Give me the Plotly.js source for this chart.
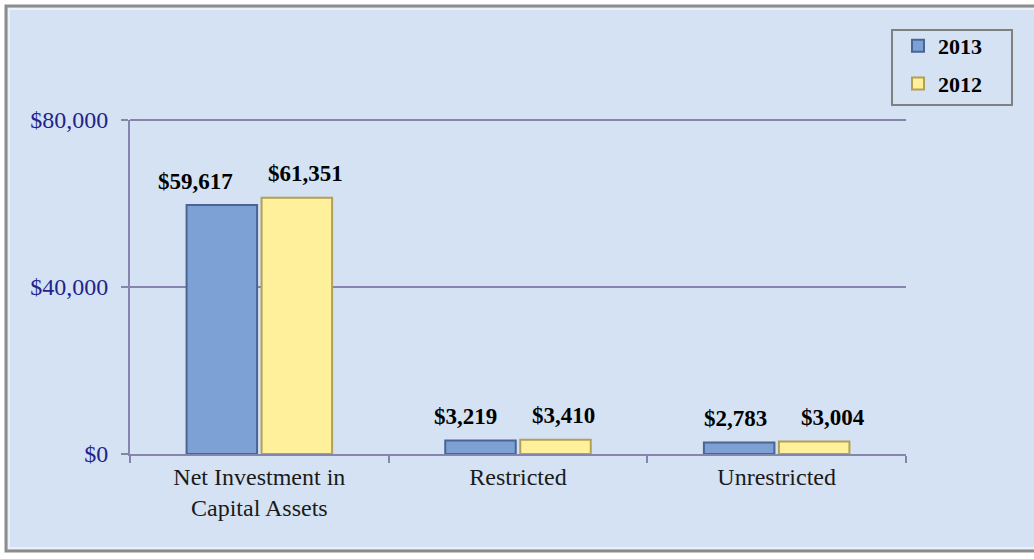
<!DOCTYPE html>
<html>
<head>
<meta charset="utf-8">
<script src="https://cdn.plot.ly/plotly-3.0.1.min.js"></script>
<style>html,body{margin:0;padding:0;background:#fff;}#chart{width:1034px;height:559px;}</style>
</head>
<body>
<div id="chart"></div>
<script>
const categories = ["Net Investment in<br>Capital Assets", "Restricted", "Unrestricted"];
const values2013 = [59617, 3219, 2783];
const values2012 = [61351, 3410, 3004];
const seriesNames = ["2013", "2012"];
const tickValues = [0, 40000, 80000];
const tickLabels = ["$0", "$40,000", "$80,000"];

const serif = "Liberation Serif, Times New Roman, serif";

const traces = [
  {
    type: 'bar', name: seriesNames[0], x: categories, y: values2013, legendgroup: 'a',
    marker: {color: '#7DA0D5', line: {color: '#4A6594', width: 2}}, hoverinfo: 'skip'
  },
  {
    type: 'bar', name: seriesNames[1], x: categories, y: values2012, legendgroup: 'b',
    marker: {color: '#FFF09C', line: {color: '#B3A055', width: 2}}, hoverinfo: 'skip'
  }
];

// label placement styling (pixel nudges for the grouped bars)
const groupShift = [-38, 38];
const labelNudge = [[-26, 8], [-15, 7], [-3, 18]];

const fmt = v => '$' + v.toLocaleString('en-US');
const annotations = [];
[values2013, values2012].forEach((vals, s) => {
  vals.forEach((v, i) => {
    annotations.push({
      x: categories[i], y: v, xref: 'x', yref: 'y',
      text: '<b>' + fmt(v) + '</b>', showarrow: false,
      xanchor: 'center', yanchor: 'middle',
      xshift: groupShift[s] + labelNudge[i][s], yshift: 24,
      font: {family: serif, size: 23, color: '#000'}
    });
  });
});

const L = 130, R = 906, T = 120, B = 454;
const px = v => (v - L) / (R - L);
const py = v => (B - v) / (B - T);
const gridColor = '#8585AE';

const layout = {
  width: 1034, height: 559,
  margin: {l: L, r: 1034 - R, t: T, b: 559 - B, pad: 0},
  paper_bgcolor: '#ffffff',
  plot_bgcolor: 'rgba(0,0,0,0)',
  barmode: 'group',
  bargap: 0.42,
  bargroupgap: 0.06,
  showlegend: true,
  legend: {
    x: px(898), xanchor: 'left', y: py(25), yanchor: 'top',
    bgcolor: 'rgba(0,0,0,0)', borderwidth: 0,
    font: {family: serif, size: 22, color: '#000', weight: 'bold'},
    traceorder: 'grouped', tracegroupgap: 6, itemwidth: 30
  },
  xaxis: {
    type: 'category', showgrid: false, showline: true, linecolor: gridColor, linewidth: 2,
    ticks: 'outside', tickson: 'boundaries', ticklen: 7, tickcolor: gridColor, tickwidth: 2,
    tickfont: {family: serif, size: 24, color: '#1a1a1a'}, fixedrange: true, zeroline: false
  },
  yaxis: {
    range: [0, 80000], tickvals: tickValues, ticktext: tickLabels,
    showgrid: true, gridcolor: gridColor, gridwidth: 2,
    showline: true, linecolor: gridColor, linewidth: 2,
    ticks: 'outside', ticklen: 7, tickcolor: gridColor, tickwidth: 2, ticklabelstandoff: 8,
    tickfont: {family: serif, size: 24, color: '#22228C'}, zeroline: false, fixedrange: true
  },
  annotations: annotations,
  shapes: [
    {type: 'rect', xref: 'paper', yref: 'paper', layer: 'below',
     x0: px(6), x1: px(1040), y0: py(551), y1: py(6),
     fillcolor: '#D5E2F3', line: {color: '#8C8C8C', width: 3}},
    {type: 'rect', xref: 'paper', yref: 'paper', layer: 'below',
     x0: px(9), x1: px(1040), y0: py(548), y1: py(9),
     fillcolor: 'rgba(0,0,0,0)', line: {color: '#EAF1FA', width: 2}},
    // top gridline (at the top edge of the value range)
    {type: 'line', xref: 'paper', yref: 'paper', layer: 'below',
     x0: 0, x1: 1, y0: 1, y1: 1,
     line: {color: gridColor, width: 2}},
    // legend frame
    {type: 'rect', xref: 'paper', yref: 'paper', layer: 'above',
     x0: px(892), x1: px(1012), y0: py(105), y1: py(30),
     fillcolor: 'rgba(0,0,0,0)', line: {color: '#808080', width: 2}}
  ]
};

Plotly.newPlot('chart', traces, layout, {staticPlot: true, displayModeBar: false});
</script>
</body>
</html>
